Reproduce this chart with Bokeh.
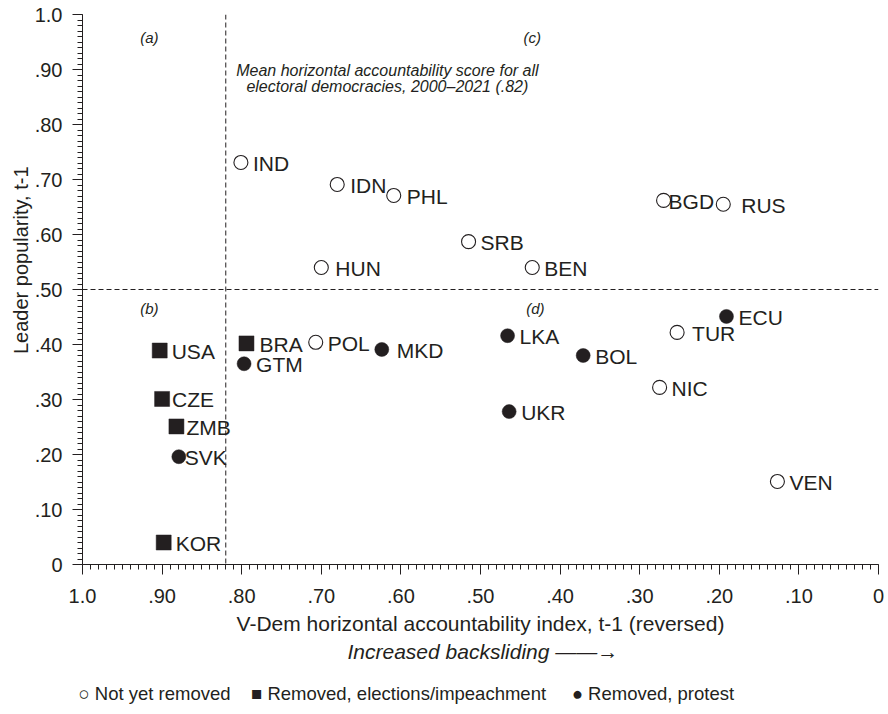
from bokeh.plotting import figure
from bokeh.models import (Range1d, FixedTicker, CustomJSTickFormatter, Span, Label,
                          ColumnDataSource, Title, LabelSet)
from bokeh.core.properties import value
from bokeh.embed import file_html
from bokeh.resources import INLINE

# ---------------- data ----------------
# Not yet removed (open circles)
open_codes = ["IND", "IDN", "PHL", "HUN", "SRB", "BEN", "BGD", "RUS", "POL", "TUR", "NIC", "VEN"]
open_x = [0.801, 0.680, 0.609, 0.700, 0.515, 0.435, 0.270, 0.195, 0.707, 0.253, 0.275, 0.127]
open_y = [0.731, 0.691, 0.671, 0.540, 0.587, 0.540, 0.662, 0.655, 0.404, 0.422, 0.322, 0.151]

# Removed, elections/impeachment (filled squares)
elec_codes = ["USA", "CZE", "ZMB", "KOR", "BRA"]
elec_x = [0.903, 0.900, 0.882, 0.898, 0.794]
elec_y = [0.389, 0.301, 0.251, 0.040, 0.402]

# Removed, protest (filled circles)
prot_codes = ["SVK", "GTM", "MKD", "LKA", "BOL", "UKR", "ECU"]
prot_x = [0.879, 0.797, 0.624, 0.466, 0.371, 0.464, 0.191]
prot_y = [0.196, 0.365, 0.391, 0.416, 0.380, 0.278, 0.451]

mean_accountability = 0.82
popularity_split = 0.50

x_major_ticks = [1.0, 0.9, 0.8, 0.7, 0.6, 0.5, 0.4, 0.3, 0.2, 0.1, 0.0]
y_major_ticks = [0.0, 0.1, 0.2, 0.3, 0.4, 0.5, 0.6, 0.7, 0.8, 0.9, 1.0]
minor_ticks = [i / 100 for i in range(101)]

quad_labels = ["(a)", "(b)", "(c)", "(d)"]
quad_x = [0.916, 0.916, 0.435, 0.431]
quad_y = [0.958, 0.465, 0.958, 0.465]

note_lines = ["Mean horizontal accountability score for all",
              "electoral democracies, 2000\u20132021 (.82)"]
note_x = 0.617
note_y = [0.898, 0.869]

legend_symbols = ["\u25CB", "\u25A0", "\u25CF"]
legend_labels = ["Not yet removed", "Removed, elections/impeachment", "Removed, protest"]

# label horizontal offsets (px) - styling only
label_dx_default = 12
label_dx_special = {"BGD": 5, "SVK": 6, "RUS": 18, "MKD": 15, "TUR": 15, "HUN": 14,
                    "CZE": 10, "ZMB": 10, "IDN": 13, "PHL": 13, "BRA": 13}

INK = "#231f20"
FONT = "Liberation Sans"
NB = "\u00A0"

p = figure(frame_width=796, frame_height=550,
           x_range=Range1d(1.0, 0.0), y_range=Range1d(0.0, 1.0),
           output_backend="svg", toolbar_location=None,
           min_border_left=82, min_border_right=8, min_border_top=14,
           min_border_bottom=2)
p.outline_line_color = None
p.xgrid.visible = False
p.ygrid.visible = False
p.background_fill_color = "white"

fmt = CustomJSTickFormatter(code="""
if (Math.abs(tick) < 1e-9) return "0";
if (Math.abs(tick - 1) < 1e-9) return "1.0";
return tick.toFixed(2).replace(/^0/, "");
""")

for ax, ticks in ((p.xaxis[0], x_major_ticks), (p.yaxis[0], y_major_ticks)):
    ax.ticker = FixedTicker(ticks=ticks, minor_ticks=minor_ticks)
    ax.formatter = fmt
    ax.axis_line_color = INK
    ax.major_tick_line_color = INK
    ax.minor_tick_line_color = INK
    ax.major_tick_out = 10
    ax.major_tick_in = 0
    ax.minor_tick_out = 5
    ax.minor_tick_in = 0
    ax.major_label_text_font = FONT
    ax.major_label_text_font_size = "20px"
    ax.major_label_text_color = INK
    ax.axis_label_text_font = FONT
    ax.axis_label_text_font_style = "normal"
    ax.axis_label_text_color = INK

p.xaxis[0].axis_label = "V-Dem horizontal accountability index, t-1 (reversed)"
p.xaxis[0].axis_label_text_font_size = "21px"
p.xaxis[0].major_label_standoff = 14
p.xaxis[0].axis_label_standoff = 6
p.yaxis[0].major_label_standoff = 10

# dashed reference lines
p.add_layout(Span(location=mean_accountability, dimension="height", line_color=INK,
                  line_dash="5 3", line_width=1))
p.add_layout(Span(location=popularity_split, dimension="width", line_color=INK,
                  line_dash="5 3", line_width=1))


def dx_list(codes):
    return [label_dx_special.get(c, label_dx_default) for c in codes]


src_open = ColumnDataSource(dict(x=open_x, y=open_y, code=open_codes, dx=dx_list(open_codes)))
src_elec = ColumnDataSource(dict(x=elec_x, y=elec_y, code=elec_codes, dx=dx_list(elec_codes)))
src_prot = ColumnDataSource(dict(x=prot_x, y=prot_y, code=prot_codes, dx=dx_list(prot_codes)))

r_open = p.scatter("x", "y", source=src_open, marker="circle", size=14,
                   fill_color="white", line_color=INK, line_width=1.1)
r_elec = p.scatter("x", "y", source=src_elec, marker="square", size=15,
                   fill_color=INK, line_color=INK, line_width=0.5)
r_prot = p.scatter("x", "y", source=src_prot, marker="circle", size=14,
                   fill_color=INK, line_color=INK, line_width=0.5)

for src in (src_open, src_elec, src_prot):
    p.add_layout(LabelSet(x="x", y="y", text="code", source=src, x_offset="dx", y_offset=-1,
                          text_font=value(FONT), text_font_size="21px", text_color=INK,
                          text_align="left", text_baseline="middle"))

for t, qx, qy in zip(quad_labels, quad_x, quad_y):
    p.add_layout(Label(x=qx, y=qy, text=t, text_font=FONT, text_font_size="15px",
                       text_font_style="italic", text_color=INK,
                       text_align="center", text_baseline="middle"))

for t, ny in zip(note_lines, note_y):
    p.add_layout(Label(x=note_x, y=ny, text=t,
                       text_font=FONT, text_font_size="16px", text_font_style="italic",
                       text_color=INK, text_align="center", text_baseline="middle"))

# y axis title, placed toward the upper part like the reference
p.add_layout(Title(text="Leader popularity, t-1", text_font=FONT, text_font_size="20px",
                   text_font_style="normal", text_color=INK, align="right", offset=152,
                   standoff=0), "left")

# "Increased backsliding" line with arrow
p.add_layout(Title(text="Increased backsliding \u2014\u2014\u2192", text_font=FONT,
                   text_font_size="21px", text_font_style="italic", text_color=INK,
                   align="left", offset=265, standoff=0), "below")

# legend line (symbols + labels)
gaps = [NB * 3 + " ", NB * 4 + " ", ""]
legend_text = "".join(f"{s} {l}{g}" for s, l, g in zip(legend_symbols, legend_labels, gaps))
p.add_layout(Title(text=legend_text, text_font=FONT, text_font_size="18.5px",
                   text_font_style="normal", text_color=INK,
                   align="left", offset=-4, standoff=36), "below")

open("out.html", "w").write(file_html(p, INLINE))
